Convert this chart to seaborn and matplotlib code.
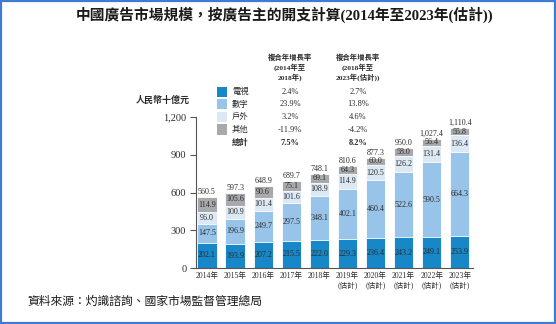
import matplotlib
matplotlib.use("Agg")
import matplotlib.pyplot as plt
import matplotlib.patches as mpatches
import seaborn as sns
import numpy as np
import pandas as pd

years = ["2014", "2015", "2016", "2017", "2018", "2019", "2020", "2021", "2022", "2023"]
estimated = [False, False, False, False, False, True, True, True, True, True]
tv = [202.1, 193.9, 207.2, 215.5, 222.0, 229.3, 236.4, 243.2, 249.1, 253.9]
digital = [147.5, 196.9, 249.7, 297.5, 348.1, 402.1, 460.4, 522.6, 590.5, 664.3]
outdoor = [96.0, 100.9, 101.4, 101.6, 108.9, 114.9, 120.5, 126.2, 131.4, 136.4]
other = [114.9, 105.6, 90.6, 75.1, 69.1, 64.3, 60.0, 58.0, 56.4, 55.8]
totals = ["560.5", "597.3", "648.9", "689.7", "748.1", "810.6", "877.3", "950.0", "1,027.4", "1,110.4"]

series_names = ["電視", "數字", "戶外", "其他"]
cagr_1 = ["2.4%", "23.9%", "3.2%", "-11.9%"]
cagr_2 = ["2.7%", "13.8%", "4.6%", "-4.2%"]
total_label = "總計"
total_cagr_1 = "7.5%"
total_cagr_2 = "8.2%"
yticks = [0, 300, 600, 900, 1200]
ytick_labels = ["0", "300", "600", "900", "1,200"]

colors = ["#1787c7", "#98c4ea", "#dce9f5", "#a7a9ac"]
text_color = "#2b2b2b"

sns.set_style("white")
plt.rcParams["font.family"] = ["Liberation Serif", "Noto Sans CJK TC", "DejaVu Sans"]

fig = plt.figure(figsize=(5.56, 3.24), dpi=100)
ax = fig.add_axes([196 / 556, 56 / 324, 277 / 556, 151 / 324])

layers = [tv, digital, outdoor, other]
cum = np.cumsum(np.array(layers), axis=0)
xlabels = [f"{y}年\n(估計)" if e else f"{y}年" for y, e in zip(years, estimated)]

# draw cumulative bars from tallest to shortest so they appear stacked
for k in range(len(layers) - 1, -1, -1):
    df = pd.DataFrame({"year": xlabels, "value": cum[k]})
    sns.barplot(data=df, x="year", y="value", color=colors[k], width=0.68,
                edgecolor="white", linewidth=0.6, ax=ax, saturation=1)

for i in range(len(years)):
    for k in range(len(layers)):
        v = layers[k][i]
        mid = cum[k][i] - v / 2
        ax.text(i, mid, f"{v:.1f}", ha="center", va="center", fontsize=5.8,
                color=text_color)
    ax.text(i, cum[-1][i] + 8, totals[i], ha="center", va="bottom", fontsize=5.8,
            color=text_color)

ax.set_xlim(-0.39, 9.47)
ax.set_ylim(0, 1200)
ax.set_yticks(yticks)
ax.set_yticklabels(ytick_labels, fontsize=7.5, color=text_color)
ax.tick_params(axis="y", length=4, width=0.8, color="#555555", pad=3, left=True)
ax.tick_params(axis="x", length=0, labelsize=5.5, pad=3, labelcolor=text_color)
ax.set_xlabel("")
ax.set_ylabel("")
for s in ["top", "right"]:
    ax.spines[s].set_visible(False)
for s in ["left", "bottom"]:
    ax.spines[s].set_color("#555555")
    ax.spines[s].set_linewidth(0.8)

# y-axis unit label
fig.text(190 / 556, 1 - 100 / 324, "人民幣十億元", ha="right", va="center",
         fontsize=6.5, fontweight="bold", color=text_color)

# title
fig.text(285 / 556, 1 - 15 / 324, "中國廣告市場規模，按廣告主的開支計算(2014年至2023年(估計))",
         ha="center", va="center", fontsize=10.6, fontweight="bold", color="#1a1a1a")

# legend table headers
hdr1 = ["複合年增長率", "(2014年至", "2018年)"]
hdr2 = ["複合年增長率", "(2018年至", "2023年(估計))"]
for j, (a, b) in enumerate(zip(hdr1, hdr2)):
    yy = 1 - (57 + j * 10) / 324
    fig.text(290 / 556, yy, a, ha="center", va="center", fontsize=5.3,
             fontweight="bold", color=text_color)
    fig.text(358 / 556, yy, b, ha="center", va="center", fontsize=5.3,
             fontweight="bold", color=text_color)

row_y = [92, 104.5, 117, 129.5, 142.5]
for r in range(4):
    yy = 1 - row_y[r] / 324
    fig.patches.append(mpatches.Rectangle((217 / 556, yy - 5 / 324), 10 / 556, 10 / 324,
                                          transform=fig.transFigure, facecolor=colors[r],
                                          edgecolor="none"))
    fig.text(232 / 556, yy, series_names[r], ha="left", va="center", fontsize=6,
             color=text_color)
    fig.text(290 / 556, yy, cagr_1[r], ha="center", va="center", fontsize=6,
             color=text_color)
    fig.text(358 / 556, yy, cagr_2[r], ha="center", va="center", fontsize=6,
             color=text_color)
yy = 1 - row_y[4] / 324
fig.text(232 / 556, yy, total_label, ha="left", va="center", fontsize=6,
         fontweight="bold", color=text_color)
fig.text(290 / 556, yy, total_cagr_1, ha="center", va="center", fontsize=6,
         fontweight="bold", color=text_color)
fig.text(358 / 556, yy, total_cagr_2, ha="center", va="center", fontsize=6,
         fontweight="bold", color=text_color)

# source
fig.text(27 / 556, 1 - 302 / 324, "資料來源：灼識諮詢、國家市場監督管理總局", ha="left",
         va="center", fontsize=8.5, color="#1a1a1a")

# frame
fig.patches.append(mpatches.Rectangle((0.001, 0.002), 0.997, 0.995, transform=fig.transFigure,
                                      facecolor="none", edgecolor="#3f7bd0", linewidth=1.6))

fig.savefig("out.png", dpi=100)
